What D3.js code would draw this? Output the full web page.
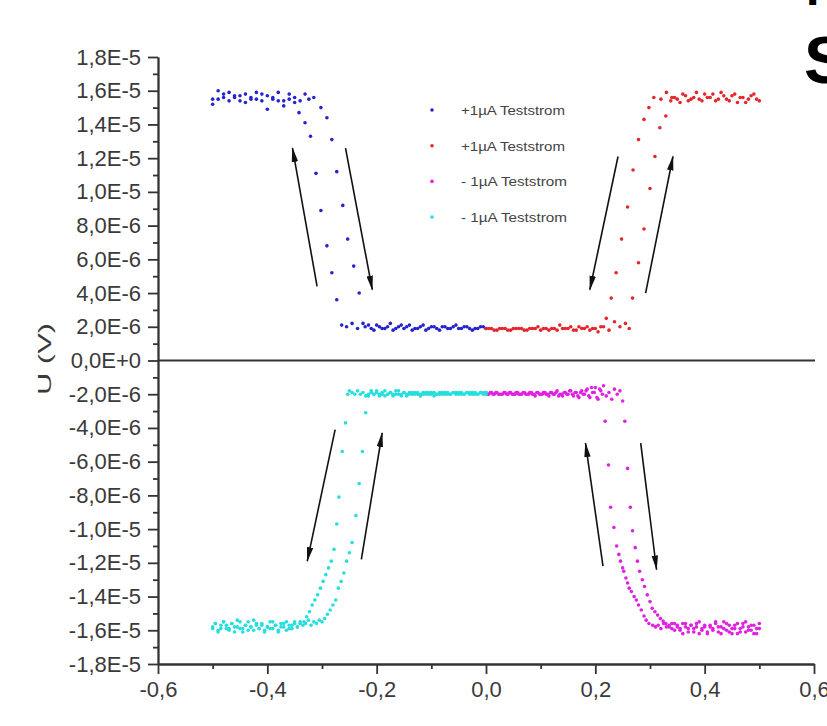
<!DOCTYPE html>
<html>
<head>
<meta charset="utf-8">
<script src="https://cdn.jsdelivr.net/npm/d3@7"></script>
<style>
  body { margin: 0; background: #fff; }
  svg { display: block; }
</style>
</head>
<body>
<script>
// U(V) hysteresis, four test current series. V on x, U in microvolt.
const legendLabels = ["+1µA Teststrom", "+1µA Teststrom", "- 1µA Teststrom", "- 1µA Teststrom"];

const xTicks = [-0.6, -0.4, -0.2, 0.0, 0.2, 0.4, 0.6];
const xMinor = [-0.5, -0.3, -0.1, 0.1, 0.3, 0.5];
const yTicks = [-18, -16, -14, -12, -10, -8, -6, -4, -2, 0, 2, 4, 6, 8, 10, 12, 14, 16, 18];
const yMinor = [-17, -15, -13, -11, -9, -7, -5, -3, -1, 1, 3, 5, 7, 9, 11, 13, 15, 17];

// blue, +1µA
const blueSweep1 = [[-.500,15.2],[-.490,15.5],[-.480,15.8],[-.470,15.4],[-.460,15.6],[-.450,15.7],[-.440,15.3],[-.430,15.6],[-.420,15.5],[-.410,15.8],[-.400,14.9],[-.390,15.6],[-.380,15.4],[-.370,15.1],[-.360,15.5],[-.350,15.6],[-.340,15.4],[-.331,15.8],[-.324,15.5],[-.315,15.6],[-.302,15.0],[-.291,14.4],[-.282,13.1],[-.273,11.2],[-.262,9.2],[-.253,7.2],[-.242,5.6],[-.232,4.0],[-.221,2.0],[-.210,1.9],[-.200,2.1],[-.190,1.9],[-.180,2.0],[-.170,1.8],[-.160,2.0],[-.150,1.9],[-.140,2.1],[-.130,1.9],[-.120,2.0],[-.110,1.8],[-.100,2.0],[-.090,1.9],[-.080,2.0],[-.070,1.9],[-.060,2.0],[-.050,1.9],[-.040,2.0],[-.030,1.9],[-.020,1.9],[-.010,2.0],[0,1.9]];
const blueSweep2 = [[-.005,2.0],[-.015,1.9],[-.025,1.8],[-.035,2.0],[-.045,1.9],[-.055,2.1],[-.065,1.9],[-.075,2.0],[-.085,1.8],[-.095,2.0],[-.105,1.9],[-.115,2.1],[-.125,1.9],[-.135,1.8],[-.145,2.0],[-.155,2.1],[-.165,1.9],[-.175,2.2],[-.185,1.9],[-.195,2.0],[-.205,1.8],[-.215,2.1],[-.225,2.2],[-.235,1.9],[-.245,2.2],[-.255,2.0],[-.264,2.1],[-.273,3.6],[-.282,5.2],[-.291,6.8],[-.302,8.9],[-.311,11.1],[-.321,13.3],[-.331,14.1],[-.342,14.7],[-.350,15.3],[-.360,15.8],[-.370,15.4],[-.380,15.9],[-.390,15.5],[-.400,15.7],[-.410,15.4],[-.420,15.9],[-.430,15.5],[-.440,15.8],[-.450,15.4],[-.460,15.7],[-.470,15.9],[-.480,15.6],[-.490,16.0],[-.500,15.5]];

// red, +1µA
const redSweep1 = [[.005,1.9],[.015,1.8],[.025,1.9],[.035,1.9],[.045,1.8],[.055,1.9],[.065,1.9],[.075,1.8],[.085,1.9],[.095,2.0],[.105,1.9],[.115,1.8],[.125,1.9],[.135,2.1],[.145,1.9],[.155,2.0],[.165,1.8],[.175,1.9],[.185,2.0],[.195,1.9],[.205,1.7],[.215,2.0],[.225,1.8],[.235,2.3],[.245,2.0],[.255,2.2],[.262,1.9],[.268,3.7],[.279,5.8],[.289,7.8],[.300,10.2],[.309,12.1],[.318,13.8],[.329,14.5],[.338,15.4],[.345,15.6],[.355,15.3],[.365,15.7],[.375,15.5],[.385,15.9],[.395,15.4],[.405,15.6],[.415,15.8],[.425,15.5],[.435,15.7],[.445,15.4],[.455,15.8],[.465,15.6],[.475,15.3],[.485,15.7],[.495,15.5]];
const redSweep2 = [[.500,15.4],[.490,15.8],[.480,15.5],[.470,15.6],[.460,15.3],[.450,15.7],[.440,15.5],[.430,15.9],[.420,15.4],[.410,15.6],[.400,15.8],[.390,15.5],[.380,15.6],[.370,15.4],[.360,15.8],[.350,15.5],[.340,15.6],[.330,15.9],[.320,15.5],[.307,15.6],[.298,15.0],[.289,14.3],[.279,13.1],[.269,11.3],[.259,9.1],[.248,7.2],[.238,5.2],[.229,3.7],[.220,2.5],[.210,2.0],[.200,1.9],[.190,1.8],[.180,1.9],[.170,2.0],[.160,1.8],[.150,1.9],[.140,1.9],[.130,1.8],[.120,1.9],[.110,1.9],[.100,1.8],[.090,1.9],[.080,1.9],[.070,1.8],[.060,1.9],[.050,1.9],[.040,1.8],[.030,1.9],[.020,1.8],[.010,1.9],[0,1.9]];

// magenta, -1µA
const magSweep1 = [[0,-1.9],[.005,-2.0],[.010,-1.9],[.015,-2.0],[.020,-1.9],[.025,-2.0],[.030,-2.0],[.035,-1.9],[.040,-2.0],[.045,-1.9],[.050,-2.0],[.055,-1.9],[.060,-2.0],[.065,-2.0],[.070,-1.9],[.075,-2.0],[.080,-1.9],[.085,-2.0],[.090,-2.1],[.095,-1.9],[.100,-2.0],[.105,-1.9],[.110,-2.0],[.115,-2.1],[.120,-1.9],[.125,-2.0],[.130,-1.8],[.135,-2.0],[.140,-2.1],[.145,-1.9],[.150,-2.0],[.155,-1.8],[.160,-2.1],[.165,-1.9],[.170,-2.2],[.175,-1.8],[.180,-2.0],[.185,-1.7],[.190,-2.2],[.195,-1.9],[.200,-1.6],[.205,-2.3],[.210,-1.8],[.215,-1.5],[.220,-2.1],[.225,-1.9],[.230,-2.3],[.235,-1.7],[.240,-2.0],[.245,-1.8],
  [.250,-2.4],[.254,-3.6],[.259,-6.4],[.264,-8.7],[.268,-10.1],[.273,-11.1],[.277,-11.9],[.281,-12.5],[.286,-13.0],[.290,-13.4],[.295,-13.9],[.300,-14.3],[.304,-14.7],[.309,-14.9],[.314,-15.1],[.319,-15.3],[.324,-15.45],[.329,-15.6],
  [.335,-15.8],[.340,-15.6],[.345,-16.0],[.350,-15.7],[.355,-15.9],[.360,-16.2],[.365,-15.6],[.370,-15.9],[.375,-15.7],[.380,-16.1],[.385,-15.8],[.390,-15.5],[.395,-16.0],[.400,-15.8],[.405,-16.2],[.410,-15.7],[.415,-15.9],[.420,-15.6],[.425,-16.1],[.430,-15.8],[.435,-15.5],[.440,-16.0],[.445,-15.7],[.450,-16.2],[.455,-15.9],[.460,-15.6],[.465,-16.1],[.470,-15.8],[.475,-15.5],[.480,-16.0],[.485,-15.7],[.490,-16.2],[.495,-15.9],[.500,-15.6]];
const magSweep2 = [[.500,-15.9],[.495,-16.2],[.490,-15.7],[.485,-16.0],[.480,-15.8],[.475,-16.1],[.470,-15.6],[.465,-15.9],[.460,-16.2],[.455,-15.7],[.450,-15.9],[.445,-16.1],[.440,-15.6],[.435,-15.9],[.430,-16.2],[.425,-15.8],[.420,-15.5],[.415,-16.0],[.410,-15.8],[.405,-16.1],[.400,-15.7],[.395,-15.9],[.390,-16.2],[.385,-15.6],[.380,-15.9],[.375,-15.7],[.370,-16.1],[.365,-15.8],[.360,-15.6],[.355,-16.0],[.350,-15.8],[.345,-15.6],[.340,-15.9],[.335,-15.7],[.330,-15.8],[.325,-15.6],[.320,-15.9],[.315,-15.7],[.310,-15.8],[.305,-15.7],
  [.298,-15.6],[.293,-15.4],[.289,-15.15],[.284,-14.8],[.279,-14.5],[.275,-14.2],[.271,-14.0],[.266,-13.7],[.262,-13.5],[.259,-13.2],[.256,-12.9],[.252,-12.5],[.250,-12.3],[.246,-11.9],[.243,-11.5],[.239,-11.0],[.234,-9.9],[.228,-8.7],[.224,-6.2],[.218,-3.6],
  [.213,-2.0],[.208,-1.7],[.203,-2.2],[.198,-1.9],[.193,-1.6],[.188,-2.1],[.183,-1.8],[.178,-2.0],[.173,-1.9],[.168,-2.1],[.163,-1.9],[.158,-2.0],[.153,-1.8],[.148,-2.0],[.143,-1.9],[.138,-2.0],[.133,-2.1],[.128,-1.9],[.123,-2.0],[.118,-1.9],[.113,-2.0],[.108,-1.9],[.103,-2.0],[.098,-2.0],[.093,-1.9],[.088,-2.0],[.083,-1.9],[.078,-2.0],[.073,-2.0],[.068,-1.9],[.063,-2.0],[.058,-1.9],[.053,-2.0],[.048,-2.0],[.043,-1.9],[.038,-2.0],[.033,-1.9],[.028,-2.0],[.023,-2.0],[.018,-1.9],[.013,-2.0],[.008,-1.9],[.003,-2.0]];

// cyan, -1µA
const cyanSweep1 = [[-.500,-15.9],[-.495,-15.6],[-.490,-16.1],[-.485,-15.7],[-.480,-15.5],[-.475,-15.9],[-.470,-16.0],[-.465,-15.6],[-.460,-15.8],[-.455,-15.4],[-.450,-15.9],[-.445,-16.1],[-.440,-15.7],[-.435,-15.5],[-.430,-15.8],[-.425,-16.0],[-.420,-15.6],[-.415,-15.9],[-.410,-15.7],[-.405,-16.1],[-.400,-15.8],[-.395,-15.5],[-.390,-15.9],[-.385,-15.7],[-.380,-16.0],[-.375,-15.6],[-.370,-15.8],[-.365,-15.5],[-.360,-15.9],[-.355,-15.7],[-.350,-15.6],[-.345,-15.8],[-.340,-15.5],[-.335,-15.7],[-.330,-15.6],[-.325,-15.4],[-.320,-15.7],[-.315,-15.5],[-.310,-15.6],[-.305,-15.4],[-.300,-15.5],
  [-.295,-15.3],[-.290,-15.05],[-.285,-14.8],[-.280,-14.5],[-.275,-14.2],[-.270,-13.5],[-.265,-13.1],[-.260,-12.6],[-.255,-11.9],[-.250,-11.4],[-.245,-10.8],[-.238,-9.2],[-.232,-7.3],[-.226,-5.4],[-.220,-3.1],
  [-.215,-2.1],[-.210,-1.9],[-.205,-2.0],[-.200,-1.8],[-.195,-2.0],[-.190,-1.9],[-.185,-2.1],[-.180,-2.0],[-.175,-1.9],[-.170,-2.0],[-.165,-1.8],[-.160,-2.0],[-.155,-2.1],[-.150,-1.9],[-.145,-2.0],[-.140,-1.9],[-.135,-2.0],[-.130,-1.9],[-.125,-2.0],[-.120,-2.0],[-.115,-1.9],[-.110,-2.0],[-.105,-1.9],[-.100,-2.0],[-.095,-1.9],[-.090,-2.0],[-.085,-2.0],[-.080,-1.9],[-.075,-2.0],[-.070,-1.9],[-.065,-2.0],[-.060,-1.9],[-.055,-1.9],[-.050,-2.0],[-.045,-1.9],[-.040,-2.0],[-.035,-1.9],[-.030,-1.9],[-.025,-2.0],[-.020,-1.9],[-.015,-2.0],[-.010,-1.9],[-.005,-1.9],[0,-2.0]];
const cyanSweep2 = [[0,-1.9],[-.005,-2.0],[-.010,-1.9],[-.015,-2.0],[-.020,-2.0],[-.025,-1.9],[-.030,-2.0],[-.035,-1.9],[-.040,-2.0],[-.045,-2.0],[-.050,-1.9],[-.055,-2.0],[-.060,-1.9],[-.065,-2.0],[-.070,-2.0],[-.075,-1.9],[-.080,-2.0],[-.085,-1.9],[-.090,-2.0],[-.095,-2.1],[-.100,-1.9],[-.105,-2.0],[-.110,-1.9],[-.115,-2.0],[-.120,-2.1],[-.125,-1.9],[-.130,-2.0],[-.135,-1.9],[-.140,-2.0],[-.145,-2.1],[-.150,-1.9],[-.155,-2.0],[-.160,-1.8],[-.165,-2.0],[-.170,-2.1],[-.175,-1.9],[-.180,-2.0],[-.185,-1.8],[-.190,-2.0],[-.195,-2.1],[-.200,-1.9],[-.205,-2.0],[-.210,-1.8],[-.215,-2.0],[-.220,-2.1],[-.225,-1.9],[-.230,-2.0],[-.235,-1.8],[-.240,-2.0],[-.245,-1.9],[-.250,-1.8],[-.253,-2.0],
  [-.257,-3.7],[-.263,-5.4],[-.269,-8.1],[-.273,-9.7],[-.278,-11.2],[-.283,-11.9],[-.288,-12.3],[-.293,-12.7],[-.298,-13.1],[-.303,-13.5],[-.308,-13.9],[-.313,-14.2],[-.318,-14.5],[-.323,-14.9],[-.328,-15.2],[-.333,-15.5],
  [-.340,-15.6],[-.345,-15.8],[-.350,-15.5],[-.355,-15.9],[-.360,-15.7],[-.365,-16.0],[-.370,-15.6],[-.375,-15.8],[-.380,-16.1],[-.385,-15.7],[-.390,-15.5],[-.395,-15.9],[-.400,-15.8],[-.405,-16.0],[-.410,-15.6],[-.415,-15.9],[-.420,-15.7],[-.425,-15.4],[-.430,-15.8],[-.435,-16.0],[-.440,-15.7],[-.445,-15.9],[-.450,-15.5],[-.455,-15.8],[-.460,-16.1],[-.465,-15.6],[-.470,-15.9],[-.475,-15.7],[-.480,-15.5],[-.485,-15.9],[-.490,-16.0],[-.495,-15.6],[-.500,-15.8]];

// sweep direction arrows: [V from, U from, V to, U to]
const arrows = [[-0.309,4.4,-0.354,12.6],[-0.257,12.6,-0.208,4.2],[0.2415,12.1,0.190,4.2],[0.292,4.0,0.342,12.1],
                [-0.276,-4.1,-0.327,-11.9],[-0.228,-11.8,-0.190,-4.3],[0.214,-12.2,0.182,-4.9],[0.283,-4.9,0.312,-12.4]];

const series = [
  {name: legendLabels[0], color: "#2323cf", pts: blueSweep1.concat(blueSweep2)},
  {name: legendLabels[1], color: "#e3262c", pts: redSweep1.concat(redSweep2)},
  {name: legendLabels[2], color: "#e021e0", pts: magSweep1.concat(magSweep2)},
  {name: legendLabels[3], color: "#25dede", pts: cyanSweep1.concat(cyanSweep2)}
];

const w = 827, h = 726;
const font = "'Liberation Sans', Arial, sans-serif";

const svg = d3.select('body').append('svg')
  .attr('width', w).attr('height', h)
  .style('background', '#fff');

const xScale = d3.scaleLinear().domain([-0.6, 0.6]).range([158, 814]);
const yScale = d3.scaleLinear().domain([-18e-6, 18e-6]).range([664, 57]);

const yFmt = v => d3.format('.1e')(v).replace('\u2212', '-').replace('.', ',').replace('e', 'E');
const xFmt = v => d3.format('.1f')(v).replace('\u2212', '-').replace('.', ',');

// zero line
svg.append('line')
  .attr('x1', xScale(-0.6)).attr('x2', xScale(0.6) + 1)
  .attr('y1', yScale(0)).attr('y2', yScale(0))
  .attr('stroke', '#333').attr('stroke-width', 2);

// axes
svg.append('g').attr('transform', 'translate(' + xScale(-0.6) + ',0)')
  .call(d3.axisLeft(yScale).tickValues(yTicks.map(d => d * 1e-6)).tickFormat(yFmt).tickSize(10).tickSizeOuter(0).tickPadding(7));
svg.append('g').attr('transform', 'translate(' + xScale(-0.6) + ',0)')
  .call(d3.axisLeft(yScale).tickValues(yMinor.map(d => d * 1e-6)).tickFormat('').tickSize(5).tickSizeOuter(0));
svg.append('g').attr('transform', 'translate(0,' + yScale(-18e-6) + ')')
  .call(d3.axisBottom(xScale).tickValues(xTicks).tickFormat(xFmt).tickSize(10).tickSizeOuter(0).tickPadding(7));
svg.append('g').attr('transform', 'translate(0,' + yScale(-18e-6) + ')')
  .call(d3.axisBottom(xScale).tickValues(xMinor).tickFormat('').tickSize(5).tickSizeOuter(0));

svg.selectAll('.domain, .tick line').attr('stroke', '#333').attr('stroke-width', 1.8);
svg.selectAll('.tick text').attr('font-family', font).attr('font-size', 22).attr('fill', '#3a3a3a');

// y title
svg.append('text')
  .attr('transform', 'translate(51,359) rotate(-90)')
  .attr('text-anchor', 'middle')
  .attr('font-family', font).attr('font-size', 18).attr('fill', '#3a3a3a')
  .attr('textLength', 72).attr('lengthAdjust', 'spacingAndGlyphs')
  .text('U (V)');

// points
series.forEach(s => {
  svg.append('g').selectAll('circle')
    .data(s.pts)
    .enter()
    .append('circle')
    .attr('cx', d => xScale(d[0]))
    .attr('cy', d => yScale(d[1] * 1e-6))
    .attr('r', 1.8)
    .attr('fill', s.color);
});

// arrows
const defs = svg.append('defs');
defs.append('marker')
  .attr('id', 'head')
  .attr('markerUnits', 'userSpaceOnUse')
  .attr('markerWidth', 16).attr('markerHeight', 8)
  .attr('refX', 14).attr('refY', 4)
  .attr('orient', 'auto')
  .append('path').attr('d', 'M0,0.8 L15,4 L0,7.2 Z').attr('fill', '#111');

svg.append('g').selectAll('line')
  .data(arrows)
  .enter()
  .append('line')
  .attr('x1', d => xScale(d[0]))
  .attr('y1', d => yScale(d[1] * 1e-6))
  .attr('x2', d => xScale(d[2]))
  .attr('y2', d => yScale(d[3] * 1e-6))
  .attr('stroke', '#111')
  .attr('stroke-width', 1.6)
  .attr('marker-end', 'url(#head)');

// legend
const legend = svg.append('g');
series.forEach((s, i) => {
  const ly = 110 + i * 35.7;
  legend.append('circle').attr('cx', 432).attr('cy', ly).attr('r', 1.8).attr('fill', s.color);
  legend.append('text')
    .attr('x', 461).attr('y', ly + 5)
    .attr('font-family', font).attr('font-size', 13.5).attr('fill', '#444')
    .attr('textLength', i < 2 ? 104 : 106).attr('lengthAdjust', 'spacingAndGlyphs')
    .text(s.name);
});

// cropped slide title at the right edge
svg.append('text').attr('x', 804).attr('y', 83)
  .attr('font-family', font).attr('font-weight', 'bold').attr('font-size', 67).attr('fill', '#000')
  .text('S');
svg.append('text').attr('x', 806).attr('y', 5)
  .attr('font-family', font).attr('font-weight', 'bold').attr('font-size', 48).attr('fill', '#000')
  .text('K');
</script>
</body>
</html>
